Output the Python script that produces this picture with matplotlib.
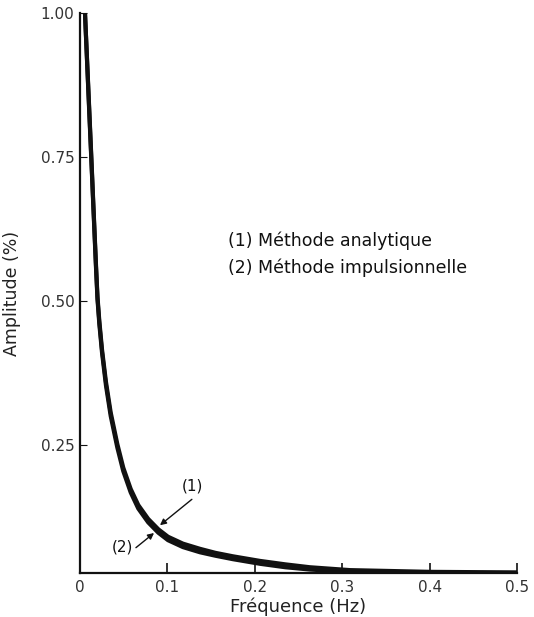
import matplotlib
matplotlib.use("Agg")
import matplotlib.pyplot as plt

# Data
freq_1 = [0.0057, 0.0103, 0.0126, 0.0150, 0.0183, 0.0200, 0.0221, 0.0252, 0.0297,
          0.0351, 0.0427, 0.0495, 0.0580, 0.0667, 0.0780, 0.0896, 0.1007, 0.1178,
          0.1373, 0.155, 0.175, 0.206, 0.235, 0.263, 0.309, 0.400, 0.500]
amp_1 = [1.000, 0.842, 0.762, 0.677, 0.562, 0.507, 0.465, 0.415, 0.359,
         0.306, 0.251, 0.210, 0.173, 0.145, 0.121, 0.103, 0.090, 0.078,
         0.069, 0.062, 0.056, 0.048, 0.042, 0.037, 0.032, 0.029, 0.028]
freq_2 = [0.0057, 0.0103, 0.0126, 0.0150, 0.0183, 0.0200, 0.0221, 0.0252, 0.0297,
          0.0351, 0.0427, 0.0495, 0.0580, 0.0667, 0.0780, 0.0896, 0.1007, 0.1178,
          0.1373, 0.155, 0.175, 0.206, 0.235, 0.263, 0.309, 0.400, 0.500]
amp_2 = [1.000, 0.838, 0.758, 0.673, 0.558, 0.503, 0.460, 0.410, 0.353,
         0.300, 0.245, 0.204, 0.167, 0.139, 0.115, 0.097, 0.084, 0.072,
         0.063, 0.057, 0.051, 0.043, 0.037, 0.033, 0.029, 0.027, 0.027]

x_ticks = [0.0, 0.1, 0.2, 0.3, 0.4, 0.5]
x_tick_labels = ["0", "0.1", "0.2", "0.3", "0.4", "0.5"]
y_ticks = [0.25, 0.50, 0.75, 1.00]
y_tick_labels = ["0.25", "0.50", "0.75", "1.00"]

legend_lines = ["(1) Méthode analytique", "(2) Méthode impulsionnelle"]

W, H = 534, 617
fig = plt.figure(figsize=(W / 100, H / 100), dpi=100)
left, right, top, bottom = 80, 517, 13, 573
ax = fig.add_axes([left / W, 1 - bottom / H, (right - left) / W, (bottom - top) / H])

ink = "#111111"
ax.plot(freq_1, amp_1, color=ink, lw=3.0, solid_capstyle="butt", solid_joinstyle="round")
ax.plot(freq_2, amp_2, color=ink, lw=3.0, solid_capstyle="butt", solid_joinstyle="round")

ax.set_xlim(0, 0.5)
ax.set_ylim(0.027, 1.0)

for s in ("top", "right"):
    ax.spines[s].set_visible(False)
for s in ("left", "bottom"):
    ax.spines[s].set_linewidth(1.6)
    ax.spines[s].set_color(ink)

ax.set_xticks(x_ticks)
ax.set_xticklabels(x_tick_labels)
ax.set_yticks(y_ticks)
ax.set_yticklabels(y_tick_labels)
ax.tick_params(axis="x", direction="in", length=7, width=1.2, colors=ink,
               labelsize=11, pad=5, labelcolor="#333333")
ax.tick_params(axis="y", direction="in", length=5, width=0.8, colors=ink,
               labelsize=11, pad=4, labelcolor="#333333")
ax.xaxis.get_major_ticks()[0].tick1line.set_visible(False)

ax.set_xlabel("Fréquence (Hz)", fontsize=13, color="#222222", labelpad=2)
ax.set_ylabel("Amplitude (%)", fontsize=12.5, color="#222222", labelpad=14)

ax.text(0.169, 0.604, legend_lines[0], fontsize=12.5, color=ink, ha="left", va="center")
ax.text(0.169, 0.557, legend_lines[1], fontsize=12.5, color=ink, ha="left", va="center")

arrow = dict(arrowstyle="-|>", color=ink, lw=1.0, shrinkA=0, shrinkB=0, mutation_scale=9)
ax.text(0.129, 0.178, "(1)", fontsize=11, ha="center", va="center", color=ink)
ax.annotate("", xy=(0.0915, 0.110), xytext=(0.128, 0.155), arrowprops=arrow)
ax.text(0.048, 0.072, "(2)", fontsize=11, ha="center", va="center", color=ink)
ax.annotate("", xy=(0.0847, 0.0965), xytext=(0.064, 0.071), arrowprops=arrow)

fig.savefig("out.png", dpi=100)
